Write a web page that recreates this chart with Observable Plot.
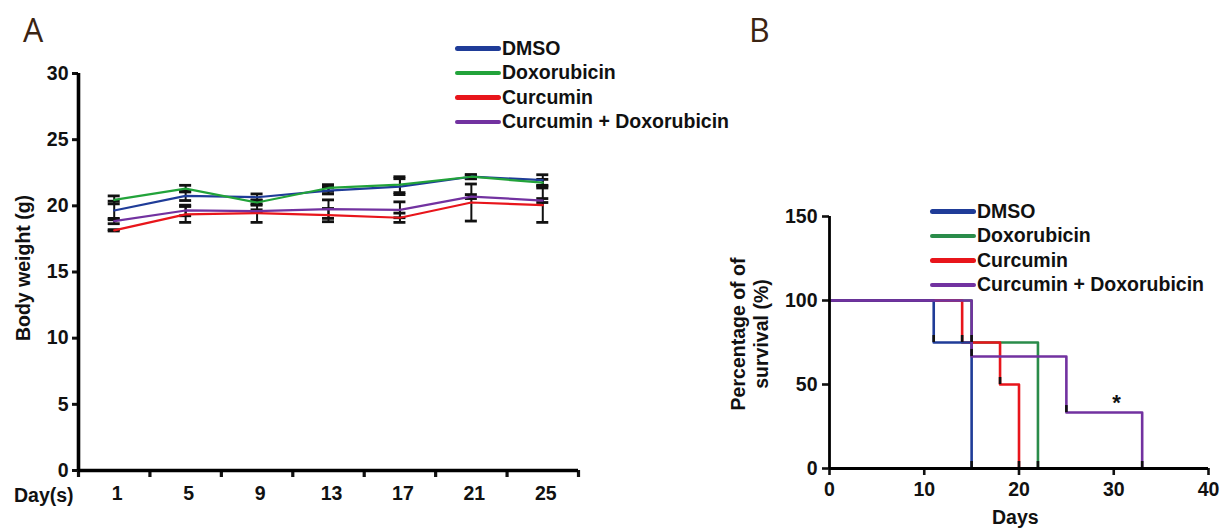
<!DOCTYPE html>
<html><head><meta charset="utf-8">
<script src="https://cdn.jsdelivr.net/npm/d3@7"></script>
<script src="https://cdn.jsdelivr.net/npm/@observablehq/plot@0.6"></script>
<style>
body{margin:0;background:#fff;}
#root{position:relative;width:1221px;height:529px;overflow:hidden;font-family:"Liberation Sans",Arial,sans-serif;color:#111;}
.panel{position:absolute;top:0;}
.lbl{position:absolute;font-weight:bold;font-size:19.5px;white-space:nowrap;}
.rot{transform:translate(-50%,-50%) rotate(-90deg);text-align:center;line-height:23px;}
.letter{position:absolute;font-family:"Open Sans","DejaVu Sans",sans-serif;font-size:32px;color:#3b2413;line-height:1;}
.leg{position:absolute;}
.leg .row{display:flex;align-items:center;height:24.5px;}
.leg .sw{width:46px;height:4.5px;border-radius:2.5px;}
.leg .tx{font-weight:bold;font-size:19.5px;margin-left:1px;}
</style></head><body><div id="root"></div>
<script>
// ---------- Data: panel A (body weight) ----------
const series = ["DMSO", "Doxorubicin", "Curcumin", "Curcumin + Doxorubicin"];
const colorsA = ["#1f3c98", "#22a33a", "#e8151b", "#7232a0"];
const colorsB = ["#1f3c98", "#2a8c4a", "#e8151b", "#7232a0"];
const days = [1, 5, 9, 13, 17, 21, 25];
const weightDMSO  = [19.65, 20.75, 20.65, 21.15, 21.45, 22.2, 21.95];
const weightDox   = [20.45, 21.3, 20.25, 21.35, 21.6, 22.2, 21.75];
const weightCur   = [18.15, 19.35, 19.45, 19.3, 19.1, 20.25, 20.05];
const weightCombo = [18.85, 19.65, 19.6, 19.75, 19.7, 20.7, 20.4];
const errDMSO  = [0.7, 0.35, 0.25, 0.25, 0.6, 0.15, 0.4];
const errDox   = [0.3, 0.25, 0.2, 0.25, 0.6, 0.15, 0.25];
const errCur   = [0.05, 0.6, 0.7, 0.5, 0.35, 1.4, 1.3];
const errCombo = [0.2, 0.4, 0.1, 0.7, 0.6, 0.15, 0.15];
const dayBoundaries = [-1, 3, 7, 11, 15, 19, 23, 27];
const yTicksA = [0, 5, 10, 15, 20, 25, 30];

// ---------- Data: panel B (survival) ----------
const survDaysDMSO = [0, 11, 15];          const survDMSO = [100, 75, 0];
const survDaysDox = [0, 15, 22];           const survDox = [100, 75, 0];
const survDaysCur = [0, 14, 18, 20];       const survCur = [100, 75, 50, 0];
const survDaysCombo = [0, 15, 25, 33];     const survCombo = [100, 66.7, 33.3, 0];
const xTicksB = [0, 10, 20, 30, 40];
const yTicksB = [0, 50, 100, 150];
const annotationB = [{day: 30.3, pct: 39, label: "*"}];

// ---------- Build tables ----------
const weights = [weightDMSO, weightDox, weightCur, weightCombo];
const errs = [errDMSO, errDox, errCur, errCombo];
const rowsA = [];
series.forEach((s, k) => days.forEach((d, i) => rowsA.push({series: s, day: d, w: weights[k][i], lo: weights[k][i] - errs[k][i], hi: weights[k][i] + errs[k][i]})));

const survX = [survDaysDMSO, survDaysDox, survDaysCur, survDaysCombo];
const survY = [survDMSO, survDox, survCur, survCombo];
const rowsB = [];
series.forEach((s, k) => survX[k].forEach((d, i) => rowsB.push({series: s, day: d, pct: survY[k][i], order: k})));
const drawOrder = [1, 2, 0, 3];
const rowsBOrdered = drawOrder.flatMap(k => rowsB.filter(r => r.order === k));
const events = rowsB.filter(r => r.day > 0);

const font = {fontFamily: "Liberation Sans, Arial, sans-serif", fontSize: "19.5px", fontWeight: "bold", color: "#111", background: "transparent"};

const plotA = Plot.plot({
  width: 600, height: 529,
  marginLeft: 78, marginRight: 22, marginTop: 73, marginBottom: 59,
  x: {domain: [-1, 27], axis: null},
  y: {domain: [0, 30], axis: null},
  color: {domain: series, range: colorsA},
  style: font,
  marks: [
    Plot.ruleX(rowsA, {x: "day", y1: "lo", y2: "hi", stroke: "#111", strokeWidth: 2}),
    Plot.ruleY(rowsA, {x1: "day", x2: "day", y: "hi", insetLeft: -6, insetRight: -6, stroke: "#111", strokeWidth: 2.8}),
    Plot.ruleY(rowsA, {x1: "day", x2: "day", y: "lo", insetLeft: -6, insetRight: -6, stroke: "#111", strokeWidth: 2.8}),
    Plot.line(rowsA, {x: "day", y: "w", z: "series", stroke: "series", strokeWidth: 2.2}),
    Plot.axisY(yTicksA, {tickSize: 6, tickPadding: 4, strokeWidth: 3, fontSize: 19.5, fontWeight: "bold", label: null}),
    Plot.axisX(dayBoundaries, {tickSize: 7, strokeWidth: 3.2, tickFormat: () => "", label: null}),
    Plot.axisX(days, {tickSize: 0, tickPadding: 16, dx: 3, fontSize: 19.5, fontWeight: "bold", label: null}),
    Plot.ruleX([-1], {y1: 0, y2: 30, stroke: "#000", strokeWidth: 3.6}),
    Plot.ruleY([0], {x1: -1, x2: 27, stroke: "#000", strokeWidth: 3.6})
  ]
});

const plotB = Plot.plot({
  width: 521, height: 529,
  marginLeft: 129, marginRight: 13, marginTop: 216, marginBottom: 61,
  x: {domain: [0, 40], axis: null},
  y: {domain: [0, 150], axis: null},
  color: {domain: series, range: colorsB},
  style: font,
  marks: [
    Plot.line(rowsBOrdered, {x: "day", y: "pct", z: "series", stroke: "series", curve: "step-after", strokeWidth: 2.6}),
    Plot.ruleX(events, {x: "day", y1: "pct", y2: "pct", insetTop: -7, stroke: "#111", strokeWidth: 2.6}),
    Plot.text(annotationB, {x: "day", y: "pct", text: "label", fontSize: 22, fontWeight: "bold"}),
    Plot.axisY(yTicksB, {tickSize: 7, tickPadding: 5, strokeWidth: 2.6, fontSize: 19.5, fontWeight: "bold", label: null}),
    Plot.axisX(xTicksB, {tickSize: 7, tickPadding: 7, strokeWidth: 2.6, fontSize: 19.5, fontWeight: "bold", label: null}),
    Plot.ruleX([0], {y1: 0, y2: 150, stroke: "#000", strokeWidth: 2.8}),
    Plot.ruleY([0], {x1: 0, x2: 40, stroke: "#000", strokeWidth: 2.8})
  ]
});

const root = document.getElementById("root");
function place(node, left) { const w = document.createElement("div"); w.className = "panel"; w.style.left = left + "px"; w.appendChild(node); root.appendChild(w); }
place(plotA, 0);
place(plotB, 700);

function addDiv(cls, html, css) { const d = document.createElement("div"); d.className = cls; d.innerHTML = html; Object.assign(d.style, css); root.appendChild(d); return d; }
addDiv("letter", "A", {left: "23px", top: "14px"});
addDiv("letter", "B", {left: "749px", top: "14px"});
addDiv("lbl rot", "Body weight (g)", {left: "23px", top: "268px"});
addDiv("lbl", "Day(s)", {left: "14px", top: "484px"});
addDiv("lbl rot", "Percentage of of<br>survival (%)", {left: "750px", top: "334px"});
addDiv("lbl", "Days", {left: "992px", top: "506px"});

function legend(left, top, colors) {
  const d = addDiv("leg", "", {left: left + "px", top: top + "px"});
  series.forEach((s, i) => {
    const r = document.createElement("div"); r.className = "row";
    r.innerHTML = `<div class="sw" style="background:${colors[i]}"></div><div class="tx">${s}</div>`;
    d.appendChild(r);
  });
}
legend(455, 36, colorsA);
legend(930, 199, colorsB);
</script>
</body></html>
